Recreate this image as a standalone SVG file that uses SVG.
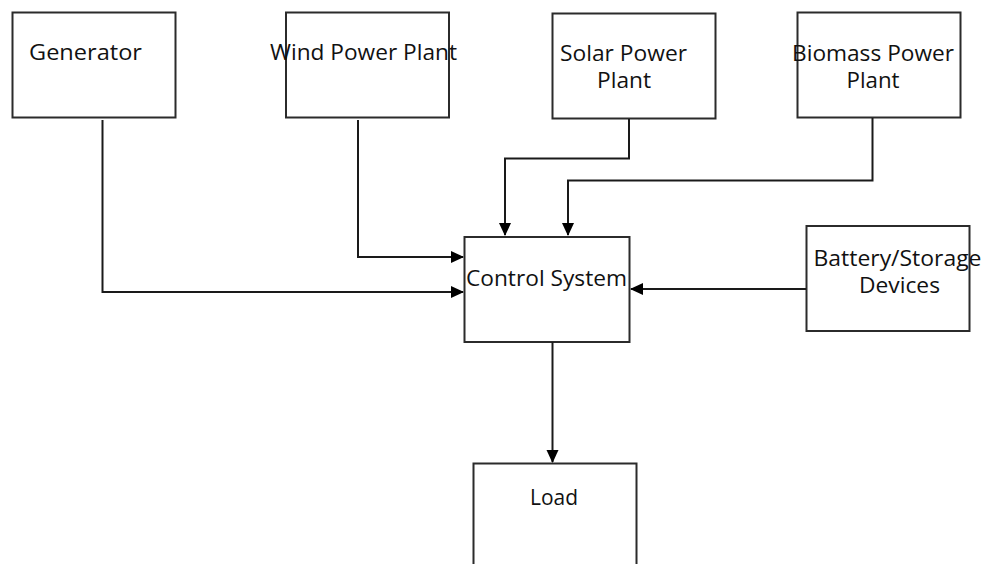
<svg xmlns="http://www.w3.org/2000/svg" width="983" height="564" viewBox="0 0 983 564">
<style>
.box{fill:#fff;stroke:#2b2b2b;stroke-width:2}
.lbl{font-family:"Open Sans","Liberation Sans",sans-serif;font-size:21px;fill:#111;text-anchor:middle}
.conn{fill:none;stroke:#1a1a1a;stroke-width:2}
</style>
<defs>
<marker id="arr" markerUnits="userSpaceOnUse" markerWidth="13" markerHeight="13" viewBox="0 0 13 13" refX="12" refY="6.5" orient="auto">
<path d="M0,0.5 L13,6.5 L0,12.5 Z" fill="#000"/>
</marker>
</defs>
<rect width="983" height="564" fill="#fff"/>
<g id="generator"><rect class="box" x="12.5" y="12.5" width="163" height="105"/><text class="lbl" x="85.5" y="60" textLength="113" lengthAdjust="spacingAndGlyphs">Generator</text></g>
<g id="wind"><rect class="box" x="286" y="12.5" width="163" height="105"/><text class="lbl" x="363.5" y="60" textLength="187" lengthAdjust="spacingAndGlyphs">Wind Power Plant</text></g>
<g id="solar"><rect class="box" x="552.5" y="13.5" width="163" height="105"/><text class="lbl" x="623.5" y="60.5" textLength="127" lengthAdjust="spacingAndGlyphs">Solar Power</text><text class="lbl" x="624" y="88" textLength="54" lengthAdjust="spacingAndGlyphs">Plant</text></g>
<g id="biomass"><rect class="box" x="797.5" y="12.5" width="163" height="105"/><text class="lbl" x="873" y="60.5" textLength="162" lengthAdjust="spacingAndGlyphs">Biomass Power</text><text class="lbl" x="873" y="88" textLength="53" lengthAdjust="spacingAndGlyphs">Plant</text></g>
<g id="control"><rect class="box" x="464.5" y="237" width="165" height="105"/><text class="lbl" x="546.5" y="286" textLength="161" lengthAdjust="spacingAndGlyphs">Control System</text></g>
<g id="battery"><rect class="box" x="806.5" y="226" width="163" height="105"/><text class="lbl" x="897.5" y="265.5" textLength="168" lengthAdjust="spacingAndGlyphs">Battery/Storage</text><text class="lbl" x="899.5" y="293" textLength="81" lengthAdjust="spacingAndGlyphs">Devices</text></g>
<g id="load"><rect class="box" x="473.5" y="463.5" width="163" height="110"/><text class="lbl" x="554" y="504.5" textLength="48" lengthAdjust="spacingAndGlyphs">Load</text></g>
<g id="connectors">
<polyline class="conn" points="102.5,120 102.5,292 463,292" marker-end="url(#arr)"/>
<polyline class="conn" points="358,120 358,257 463,257" marker-end="url(#arr)"/>
<polyline class="conn" points="629,119 629,158.5 505,158.5 505,235" marker-end="url(#arr)"/>
<polyline class="conn" points="872.5,118 872.5,180.5 568,180.5 568,235" marker-end="url(#arr)"/>
<line class="conn" x1="806" y1="289" x2="631" y2="289" marker-end="url(#arr)"/>
<line class="conn" x1="552.5" y1="342" x2="552.5" y2="462" marker-end="url(#arr)"/>
</g>
</svg>
